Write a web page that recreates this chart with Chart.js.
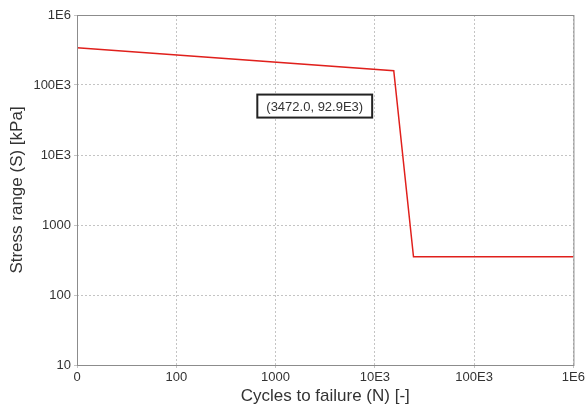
<!DOCTYPE html>
<html>
<head>
<meta charset="utf-8">
<script src="https://cdn.jsdelivr.net/npm/chart.js@4"></script>
<style>
  html, body { margin: 0; padding: 0; background: #fff; }
  #wrap { width: 587px; height: 407px; }
</style>
</head>
<body>
<div id="wrap"><canvas id="snChart"></canvas></div>
<script>
// S-N curve data (cycles, stress in kPa)
const cycles = [10, 15500, 24500, 1000000];
const stress = [341000, 160000, 352, 352];

const xTicks = [10, 100, 1000, 10000, 100000, 1000000];
const xTickLabels = ['0', '100', '1000', '10E3', '100E3', '1E6'];
const yTicks = [10, 100, 1000, 10000, 100000, 1000000];
const yTickLabels = ['10', '100', '1000', '10E3', '100E3', '1E6'];

const noteText = '(3472.0, 92.9E3)';
const notePos = [2480, 50000];

const FONT = 'Liberation Sans, Arial, sans-serif';

// frame + annotation box
const framePlugin = {
    id: 'frame',
    afterDraw(chart) {
        const ctx = chart.ctx;
        const a = chart.chartArea;
        ctx.save();
        ctx.strokeStyle = '#8c8c8c';
        ctx.lineWidth = 1;
        ctx.strokeRect(a.left + 0.5, a.top + 0.5, a.right - a.left, a.bottom - a.top);

        const x = chart.scales.x.getPixelForValue(notePos[0]);
        const y = chart.scales.y.getPixelForValue(notePos[1]);
        ctx.font = '13px ' + FONT;
        const w = ctx.measureText(noteText).width + 18;
        const h = 23;
        ctx.fillStyle = '#fff';
        ctx.fillRect(x - w / 2, y - h / 2, w, h);
        ctx.strokeStyle = '#222';
        ctx.lineWidth = 2;
        ctx.strokeRect(x - w / 2, y - h / 2, w, h);
        ctx.fillStyle = '#333';
        ctx.textAlign = 'center';
        ctx.textBaseline = 'middle';
        ctx.fillText(noteText, x, y + 1);
        ctx.restore();
    }
};

const points = cycles.map((c, i) => ({ x: c, y: stress[i] }));

new Chart(document.getElementById('snChart'), {
    type: 'line',
    data: {
        datasets: [{
            data: points,
            borderColor: '#e0201c',
            borderWidth: 1.5,
            pointRadius: 0,
            tension: 0,
            fill: false
        }]
    },
    options: {
        responsive: true,
        maintainAspectRatio: false,
        animation: false,
        layout: { padding: { top: 15, right: 13, left: 7, bottom: 0 } },
        plugins: {
            legend: { display: false },
            tooltip: { enabled: false }
        },
        scales: {
            x: {
                type: 'logarithmic',
                min: 10,
                max: 1000000,
                afterBuildTicks: function(scale) {
                    scale.ticks = xTicks.map(v => ({ value: v }));
                },
                afterFit: function(scale) { scale.height = 42; },
                ticks: {
                    autoSkip: false,
                    maxRotation: 0,
                    color: '#333',
                    padding: 2,
                    font: { family: FONT, size: 13 },
                    callback: function(v) {
                        const i = xTicks.indexOf(v);
                        return i >= 0 ? xTickLabels[i] : '';
                    }
                },
                grid: { color: '#c4c4c4', lineWidth: 1, tickLength: 3, drawTicks: true },
                border: { display: false, dash: [2, 2] },
                title: {
                    display: true,
                    text: 'Cycles to failure (N) [-]',
                    color: '#333',
                    font: { family: FONT, size: 17 },
                    padding: { top: 0, bottom: 0 }
                }
            },
            y: {
                type: 'logarithmic',
                min: 10,
                max: 1000000,
                afterBuildTicks: function(scale) {
                    scale.ticks = yTicks.map(v => ({ value: v }));
                },
                afterFit: function(scale) { scale.width = 70; },
                ticks: {
                    autoSkip: false,
                    color: '#333',
                    padding: 3,
                    font: { family: FONT, size: 13 },
                    callback: function(v) {
                        const i = yTicks.indexOf(v);
                        return i >= 0 ? yTickLabels[i] : '';
                    }
                },
                grid: { color: '#c4c4c4', lineWidth: 1, tickLength: 3 },
                border: { display: false, dash: [2, 2] },
                title: {
                    display: true,
                    text: 'Stress range (S) [kPa]',
                    color: '#333',
                    font: { family: FONT, size: 17 },
                    padding: { top: 0, bottom: 0 }
                }
            }
        }
    },
    plugins: [framePlugin]
});
</script>
</body>
</html>
